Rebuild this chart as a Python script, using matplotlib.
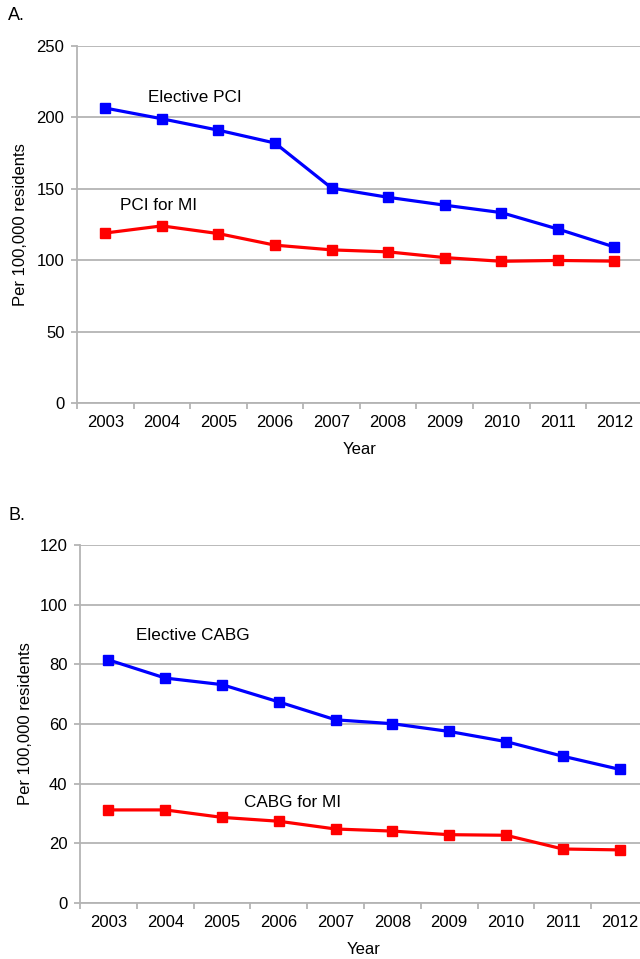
import matplotlib.pyplot as plt
import numpy as np

plt.rcParams['font.family'] = ['Liberation Sans', 'DejaVu Sans']

years = ['2003', '2004', '2005', '2006', '2007', '2008', '2009', '2010', '2011', '2012']

# Panel A : PCI
elective_pci = [206.5, 199, 191, 182, 150.5, 144, 138.5, 133.3, 121.8, 109.2]
pci_mi = [119, 124, 118.6, 110.5, 107.2, 105.8, 101.8, 99.2, 99.8, 99.3]

# Panel B : CABG
elective_cabg = [81.5, 75.4, 73.2, 67.4, 61.4, 60.1, 57.5, 54.1, 49.2, 44.8]
cabg_mi = [31.2, 31.2, 28.7, 27.4, 24.8, 24.1, 22.9, 22.7, 18.1, 17.8]

grid_col = '#b4b4b4'
x = np.arange(len(years))


def panel(ax, s1, s2, ymax, ystep, lab1, pos1, lab2, pos2):
    ax.plot(x, s1, color='#0000ff', lw=2.3, marker='s', ms=6.5, zorder=3)
    ax.plot(x, s2, color='#ff0000', lw=2.3, marker='s', ms=6.5, zorder=3)
    ax.set_xlim(-0.5, len(years) - 0.5)
    ax.set_ylim(0, ymax)
    ax.set_yticks(np.arange(0, ymax + 1, ystep))
    ax.yaxis.grid(True, color=grid_col, lw=1.3)
    ax.set_axisbelow(True)
    for s in ['top', 'right']:
        ax.spines[s].set_visible(False)
    for s in ['left', 'bottom']:
        ax.spines[s].set_color(grid_col)
        ax.spines[s].set_linewidth(1.3)
    ax.set_xticks(x)
    ax.set_xticklabels(years)
    ax.set_xticks(np.arange(-0.5, len(years)), minor=True)
    ax.tick_params(axis='x', which='major', length=0, pad=9, labelsize=12)
    ax.tick_params(axis='x', which='minor', length=4, color=grid_col, width=1.3)
    ax.tick_params(axis='y', length=4, color=grid_col, width=1.3, labelsize=12, pad=5)
    ax.set_xlabel('Year', fontsize=12, labelpad=8)
    ax.set_ylabel('Per 100,000 residents', fontsize=12)
    ax.text(pos1[0], pos1[1], lab1, fontsize=12.3, va='center', ha='left')
    ax.text(pos2[0], pos2[1], lab2, fontsize=12.3, va='center', ha='left')


fig = plt.figure(figsize=(6.4, 9.59), dpi=100)

axA = fig.add_axes([0.1203, 0.5798, 0.884, 0.3723])
panel(axA, elective_pci, pci_mi, 250, 50, 'Elective PCI', (0.76, 214), 'PCI for MI', (0.26, 138.5))
axA.yaxis.set_label_coords(-0.087, 0.5)

axB = fig.add_axes([0.125, 0.0584, 0.8875, 0.3733])
panel(axB, elective_cabg, cabg_mi, 120, 20, 'Elective CABG', (0.49, 89.5), 'CABG for MI', (2.39, 33.8))
axB.yaxis.set_label_coords(-0.083, 0.5)

fig.text(8 / 640, 1 - 15 / 959, 'A.', fontsize=13, va='center', ha='left')
fig.text(8 / 640, 1 - 515 / 959, 'B.', fontsize=13, va='center', ha='left')

fig.savefig('out.png', dpi=100)
